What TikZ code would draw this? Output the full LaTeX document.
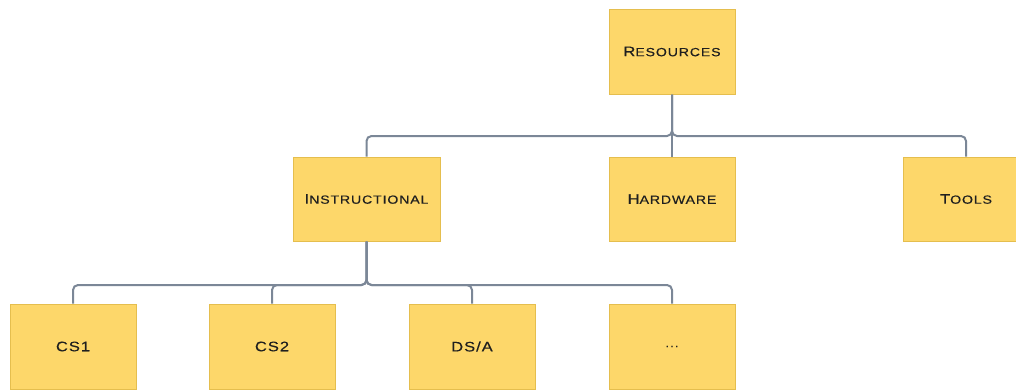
\documentclass[tikz,border=0pt]{standalone}
\usepackage{fontspec}
\newfontfamily\cpfont[FakeStretch=1.2,LetterSpace=7,FakeBold=0.4]{Liberation Sans}
\newcommand\fs[2]{#1{\fontsize{11.8}{13}\selectfont #2}}
\definecolor{boxfill}{HTML}{FDD76A}
\definecolor{boxline}{HTML}{E5BE4E}
\definecolor{conncol}{HTML}{7B8797}
\begin{document}
\begin{tikzpicture}[x=1pt,y=1pt,
  box/.style={draw=boxline,fill=boxfill,line width=1pt,minimum width=126pt,minimum height=85pt,inner sep=0pt,
    font=\cpfont\fontsize{13.8}{15}\selectfont,text=black!88},
  conn/.style={draw=conncol,line width=2pt,rounded corners=5pt}]
\useasboundingbox (0,0) rectangle (1016,-389);
\clip (0,0) rectangle (1016,-389);
\node[box] (res) at (672,-51.5) {\fs{R}{ESOURCES}};
\node[box,minimum width=147pt,minimum height=84pt] (ins) at (366.5,-199) {\fs{I}{NSTRUCTIONAL}};
\node[box,minimum height=84pt] (hw) at (672,-199) {\fs{H}{ARDWARE}};
\node[box,minimum height=84pt] (tools) at (966,-199) {\fs{T}{OOLS}};
\node[box] (cs1) at (73,-346.5) {CS1};
\node[box] (cs2) at (272,-346.5) {CS2};
\node[box] (dsa) at (472,-346.5) {DS/A};
\node[box] (etc) at (672,-346.5) {\fs{}{...}};
\coordinate (bus1) at (0,-136);
\coordinate (bus2) at (0,-285);
\draw[conn] (res.south) -- (res.south |- bus1) -| (ins.north);
\draw[conn] (res.south) -- (hw.north);
\draw[conn] (res.south) -- (res.south |- bus1) -| (tools.north);
\draw[conn] (ins.south) -- (ins.south |- bus2) -| (cs1.north);
\draw[conn] (ins.south) -- (ins.south |- bus2) -| (cs2.north);
\draw[conn] (ins.south) -- (ins.south |- bus2) -| (dsa.north);
\draw[conn] (ins.south) -- (ins.south |- bus2) -| (etc.north);
\end{tikzpicture}
\end{document}
